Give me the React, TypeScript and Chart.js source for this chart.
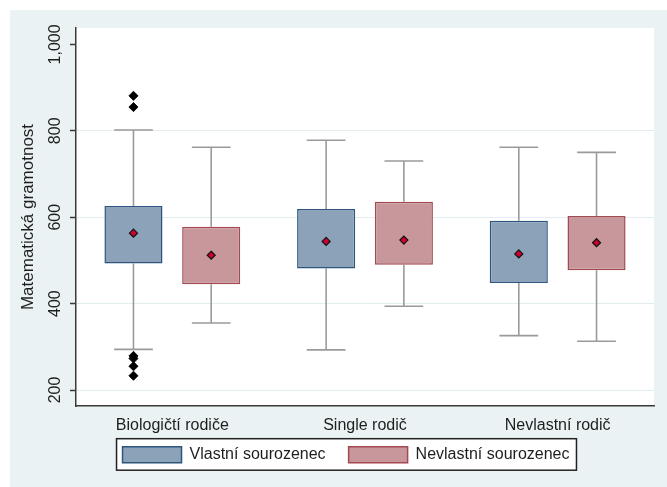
import { useEffect, useRef } from 'react';
import { Chart, registerables } from 'chart.js';

Chart.register(...registerables);

// ---- data ----
const categories = ['Biologičtí rodiče', 'Single rodič', 'Nevlastní rodič'];
const seriesNames = ['Vlastní sourozenec', 'Nevlastní sourozenec'];
const yTitle = 'Matematická gramotnost';
const yTicks = [200, 400, 600, 800, 1000];

const vlastniQ1 = [493, 481, 448];
const vlastniQ3 = [626, 619, 592];
const vlastniLow = [294, 293, 326];
const vlastniHigh = [802, 778, 762];
const vlastniMean = [563, 544, 515];
const vlastniOutliers = [[881, 855, 279, 273, 255, 233], [], []];

const nevlastniQ1 = [445, 490, 477];
const nevlastniQ3 = [578, 636, 603];
const nevlastniLow = [355, 394, 313];
const nevlastniHigh = [762, 730, 750];
const nevlastniMean = [512, 547, 541];
const nevlastniOutliers = [[], [], []];

// ---- styles ----
const FONT = "Arial, 'Liberation Sans', sans-serif";
const TEXT = '#1e1e1e';
const FRAME_BG = '#EAF2F3';
const GRID = '#E3EDEF';
const AXIS = '#3a3a3a';
const BLUE_FILL = '#8BA2B9';
const BLUE_LINE = '#2D557D';
const RED_FILL = '#C7979B';
const RED_LINE = '#A44852';
const WHISKER = '#9A9A9A';
const MEAN_FILL = '#CC0033';
const CAT_PCT = 0.807;
const BAR_PCT = 0.747;

const boxSets = [
  { low: vlastniLow, high: vlastniHigh, q1: vlastniQ1, q3: vlastniQ3, mean: vlastniMean, out: vlastniOutliers },
  { low: nevlastniLow, high: nevlastniHigh, q1: nevlastniQ1, q3: nevlastniQ3, mean: nevlastniMean, out: nevlastniOutliers },
];

function diamond(ctx: CanvasRenderingContext2D, x: number, y: number, r: number) {
  ctx.beginPath();
  ctx.moveTo(x, y - r);
  ctx.lineTo(x + r, y);
  ctx.lineTo(x, y + r);
  ctx.lineTo(x - r, y);
  ctx.closePath();
}

const stataPlugin = {
  id: 'stataLook',
  afterLayout(chart: any) {
    const lg = chart.legend;
    if (!lg) return;
    const dx = 346 - (lg.left + lg.right) / 2;
    const dy = 423.7 - lg.top;
    lg.left += dx;
    lg.right += dx;
    lg.top += dy;
    lg.bottom += dy;
  },
  beforeDraw(chart: any) {
    const { ctx, width, height, chartArea } = chart;
    ctx.save();
    ctx.fillStyle = '#ffffff';
    ctx.fillRect(0, 0, width, height);
    ctx.fillStyle = FRAME_BG;
    ctx.fillRect(10, 10, width - 10, height - 10);
    ctx.fillStyle = '#ffffff';
    ctx.fillRect(chartArea.left, chartArea.top, chartArea.right - chartArea.left, chartArea.bottom - chartArea.top);
    const hb = chart.legend && chart.legend.legendHitBoxes;
    if (hb && hb.length) {
      const last = hb[hb.length - 1];
      const l = hb[0].left - 6;
      const r = last.left + last.width + 7;
      const t = hb[0].top - 8;
      const b = hb[0].top + hb[0].height + 7.5;
      ctx.fillStyle = '#ffffff';
      ctx.fillRect(l, t, r - l, b - t);
      ctx.strokeStyle = '#222';
      ctx.lineWidth = 1.5;
      ctx.strokeRect(l, t, r - l, b - t);
    }
    ctx.restore();
  },
  beforeDatasetsDraw(chart: any) {
    const y = chart.scales.y;
    const ctx = chart.ctx;
    ctx.save();
    ctx.strokeStyle = WHISKER;
    ctx.lineWidth = 1.6;
    boxSets.forEach((s, d) => {
      const meta = chart.getDatasetMeta(d);
      meta.data.forEach((bar: any, i: number) => {
        const { x, width } = bar.getProps(['x', 'width'], true);
        const half = width / 3;
        const yHi = y.getPixelForValue(s.high[i]);
        const yLo = y.getPixelForValue(s.low[i]);
        const yQ3 = y.getPixelForValue(s.q3[i]);
        const yQ1 = y.getPixelForValue(s.q1[i]);
        ctx.beginPath();
        ctx.moveTo(x, yHi);
        ctx.lineTo(x, yQ3);
        ctx.moveTo(x, yQ1);
        ctx.lineTo(x, yLo);
        ctx.moveTo(x - half, yHi);
        ctx.lineTo(x + half, yHi);
        ctx.moveTo(x - half, yLo);
        ctx.lineTo(x + half, yLo);
        ctx.stroke();
      });
    });
    ctx.restore();
  },
  afterDatasetsDraw(chart: any) {
    const y = chart.scales.y;
    const ctx = chart.ctx;
    ctx.save();
    boxSets.forEach((s, d) => {
      const meta = chart.getDatasetMeta(d);
      meta.data.forEach((bar: any, i: number) => {
        const { x } = bar.getProps(['x'], true);
        // mean marker
        diamond(ctx, x, y.getPixelForValue(s.mean[i]), 4);
        ctx.fillStyle = MEAN_FILL;
        ctx.fill();
        ctx.strokeStyle = '#111';
        ctx.lineWidth = 1.2;
        ctx.stroke();
        // outliers
        s.out[i].forEach((v: number) => {
          diamond(ctx, x, y.getPixelForValue(v), 4.6);
          ctx.fillStyle = '#000';
          ctx.fill();
          ctx.strokeStyle = '#000';
          ctx.lineWidth = 0.8;
          ctx.stroke();
        });
      });
    });
    ctx.restore();
  },
};

export default function App() {
  const ref = useRef<HTMLCanvasElement>(null);

  useEffect(() => {
    document.body.style.margin = '0';
    const chart = new Chart(ref.current as HTMLCanvasElement, {
      type: 'bar',
      data: {
        labels: categories,
        datasets: [
          {
            label: seriesNames[0],
            data: vlastniQ1.map((q, i) => [q, vlastniQ3[i]]),
            backgroundColor: BLUE_FILL,
            borderColor: BLUE_LINE,
            borderWidth: 1.5,
            borderSkipped: false,
            categoryPercentage: CAT_PCT,
            barPercentage: BAR_PCT,
          },
          {
            label: seriesNames[1],
            data: nevlastniQ1.map((q, i) => [q, nevlastniQ3[i]]),
            backgroundColor: RED_FILL,
            borderColor: RED_LINE,
            borderWidth: 1.5,
            borderSkipped: false,
            categoryPercentage: CAT_PCT,
            barPercentage: BAR_PCT,
          },
        ] as any,
      },
      options: {
        responsive: false,
        animation: false,
        devicePixelRatio: 1,
        layout: { padding: { left: 10, right: 13, top: 28, bottom: 2 } },
        scales: {
          x: {
            type: 'category',
            grid: { display: false, drawTicks: false },
            border: { display: true, color: AXIS, width: 1.5 },
            ticks: { color: TEXT, font: { family: FONT, size: 16 }, padding: 9.5, maxRotation: 0, autoSkip: false },
            afterFit: (s: any) => { s.height = 30; },
          },
          y: {
            type: 'linear',
            min: 163,
            max: 1038,
            afterBuildTicks: (s: any) => { s.ticks = yTicks.map((v) => ({ value: v })); },
            afterFit: (s: any) => { s.width = 66; },
            grid: {
              color: (c: any) => (c.tick && c.tick.value === 1000 ? 'rgba(0,0,0,0)' : GRID),
              lineWidth: 1,
              drawTicks: true,
              tickLength: 6,
              tickColor: AXIS,
              tickWidth: 1.5,
            },
            border: { display: true, color: AXIS, width: 1.5 },
            ticks: {
              minRotation: 90,
              maxRotation: 90,
              crossAlign: 'center',
              padding: -6,
              color: TEXT,
              font: { family: FONT, size: 16 },
              callback: (v: any) => Number(v).toLocaleString('en-US'),
            },
            title: {
              display: true,
              text: yTitle,
              color: TEXT,
              font: { family: FONT, size: 17 },
              padding: { top: 8, bottom: 0 },
            },
          },
        },
        plugins: {
          legend: {
            position: 'bottom',
            labels: {
              boxWidth: 59,
              boxHeight: 16,
              padding: 23,
              color: TEXT,
              font: { family: FONT, size: 16 },
            },
          },
          tooltip: { enabled: false },
        },
      } as any,
      plugins: [stataPlugin],
    });
    return () => chart.destroy();
  }, []);

  return (
    <div style={{ width: 667, height: 487 }}>
      <canvas ref={ref} width={667} height={487} style={{ display: 'block' }} />
    </div>
  );
}
